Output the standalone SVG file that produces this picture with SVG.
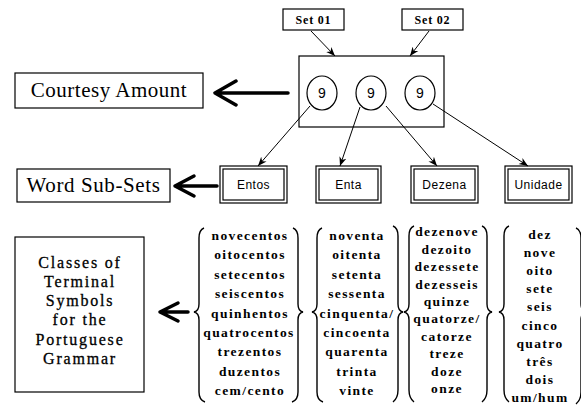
<svg xmlns="http://www.w3.org/2000/svg" width="581" height="406" viewBox="0 0 581 406">
<defs>
<style>
.box{fill:#fff;stroke:#000;stroke-width:1.2}
.lbl{font-family:"Liberation Serif","Times New Roman",serif;font-size:21px;fill:#000;text-anchor:middle}
.cls{font-family:"Liberation Serif","Times New Roman",serif;font-size:16px;fill:#000;text-anchor:middle;letter-spacing:1.8px;stroke:#000;stroke-width:0.3}
.set{font-family:"Liberation Serif","Times New Roman",serif;font-size:12px;font-weight:bold;fill:#000;text-anchor:middle;letter-spacing:0.8px}
.sub{font-family:"Liberation Sans",Arial,sans-serif;font-size:12px;fill:#000;text-anchor:middle;letter-spacing:0.5px}
.dig{font-family:"Liberation Sans",Arial,sans-serif;font-size:14px;fill:#000;text-anchor:middle}
.w{font-family:"Liberation Serif","Times New Roman",serif;font-size:13.5px;font-weight:bold;fill:#000;text-anchor:middle;letter-spacing:1.4px}
.con{fill:none;stroke:#000;stroke-width:1;marker-end:url(#ah)}
.big{fill:none;stroke:#000;stroke-width:3.5;stroke-linecap:round;stroke-linejoin:round}
.brace{fill:none;stroke:#000;stroke-width:1.4}
</style>
<marker id="ah" viewBox="0 0 10 10" refX="10" refY="5" markerWidth="9" markerHeight="9" markerUnits="userSpaceOnUse" orient="auto">
<path d="M0,1 L10,5 L0,9 L3,5 Z" fill="#000"/>
</marker>
</defs>

<g id="set01"><rect class="box" x="283" y="9" width="61" height="21"/><text class="set" x="313.5" y="24">Set 01</text></g>
<g id="set02"><rect class="box" x="402" y="9" width="61" height="21"/><text class="set" x="432.5" y="24">Set 02</text></g>

<g id="courtesy-box">
<rect class="box" x="299" y="56" width="145" height="71"/>
<ellipse class="box" cx="322" cy="93" rx="15" ry="17"/><text class="dig" x="322" y="98">9</text>
<ellipse class="box" cx="371" cy="93" rx="15" ry="17"/><text class="dig" x="371" y="98">9</text>
<ellipse class="box" cx="420" cy="93" rx="15" ry="17"/><text class="dig" x="420" y="98">9</text>
</g>

<g id="courtesy-label"><rect class="box" x="15" y="73" width="188" height="35"/><text class="lbl" x="109" y="97" style="letter-spacing:0.5px">Courtesy Amount</text></g>
<g id="subsets-label"><rect class="box" x="17" y="169" width="153" height="33"/><text class="lbl" x="93.5" y="192" style="letter-spacing:0.6px">Word Sub-Sets</text></g>
<g id="classes-label"><rect class="box" x="15" y="237" width="129" height="155"/>
<text class="cls" x="80" y="268">Classes of</text>
<text class="cls" x="80" y="287">Terminal</text>
<text class="cls" x="80" y="306">Symbols</text>
<text class="cls" x="80" y="325">for the</text>
<text class="cls" x="80" y="345">Portuguese</text>
<text class="cls" x="80" y="364">Grammar</text>
</g>

<g id="entos"><rect class="box" x="220" y="166" width="67" height="37"/><rect class="box" x="223" y="169" width="61" height="31"/><text class="sub" x="253.5" y="189">Entos</text></g>
<g id="enta"><rect class="box" x="316" y="166" width="65" height="37"/><rect class="box" x="319" y="169" width="59" height="31"/><text class="sub" x="348.5" y="189">Enta</text></g>
<g id="dezena"><rect class="box" x="411" y="166" width="67" height="37"/><rect class="box" x="414" y="169" width="61" height="31"/><text class="sub" x="444.5" y="189">Dezena</text></g>
<g id="unidade"><rect class="box" x="505" y="166" width="67" height="37"/><rect class="box" x="508" y="169" width="61" height="31"/><text class="sub" x="538.5" y="189">Unidade</text></g>

<g id="connectors">
<line class="con" x1="311" y1="31" x2="335" y2="56"/>
<line class="con" x1="429" y1="31" x2="410" y2="56"/>
<line class="con" x1="310" y1="106" x2="258" y2="166"/>
<line class="con" x1="360" y1="107" x2="340" y2="166"/>
<line class="con" x1="386" y1="106" x2="437" y2="166"/>
<line class="con" x1="433" y1="104" x2="528" y2="166"/>
<path class="big" d="M215,93 H288 M236,81 L215,93 L236,105"/>
<path class="big" d="M175,186 H217 M194,176 L175,186 L194,196"/>
<path class="big" d="M160,312 H188 M178,303 L160,312 L178,321"/>
</g>

<g id="braces">
<path class="brace" d="M204,228 Q199,230 199,238 V304 Q199,311 194,312 Q199,313 199,320 V392 Q199,400 205,402"/>
<path class="brace" d="M293,228 Q298,230 298,238 V304 Q298,311 303,312 Q298,313 298,320 V392 Q298,400 292,402"/>
<path class="brace" d="M322,228 Q317,230 317,238 V304 Q317,311 312,312 Q317,313 317,320 V392 Q317,400 323,402"/>
<path class="brace" d="M393,226 Q398,228 398,236 V304 Q398,311 403,312 Q398,313 398,320 V390 Q398,398 393,402"/>
<path class="brace" d="M414,226 Q409,228 409,236 V304 Q409,311 404,312 Q409,313 409,320 V390 Q409,398 414,402"/>
<path class="brace" d="M482,226 Q487,228 487,236 V304 Q487,311 492,312 Q487,313 487,320 V390 Q487,398 482,402"/>
<path class="brace" d="M509,226 Q504,228 504,236 V304 Q504,311 499,312 Q504,313 504,320 V390 Q504,398 509,402"/>
<path class="brace" d="M576,228 Q581,230 581,238 V304 Q581,311 586,312 Q581,313 581,320 V392 Q581,400 576,404"/>
</g>

<g id="words-entos">
<text class="w" x="250" y="240">novecentos</text>
<text class="w" x="250" y="259">oitocentos</text>
<text class="w" x="250" y="279">setecentos</text>
<text class="w" x="250" y="298">seiscentos</text>
<text class="w" x="250" y="318">quinhentos</text>
<text class="w" x="249" y="337">quatrocentos</text>
<text class="w" x="250" y="356">trezentos</text>
<text class="w" x="250" y="376">duzentos</text>
<text class="w" x="250" y="395">cem/cento</text>
</g>
<g id="words-enta">
<text class="w" x="357" y="240">noventa</text>
<text class="w" x="357" y="259">oitenta</text>
<text class="w" x="357" y="279">setenta</text>
<text class="w" x="357" y="298">sessenta</text>
<text class="w" x="357" y="318">cinquenta/</text>
<text class="w" x="357" y="337">cincoenta</text>
<text class="w" x="357" y="356">quarenta</text>
<text class="w" x="357" y="376">trinta</text>
<text class="w" x="357" y="395">vinte</text>
</g>
<g id="words-dezena">
<text class="w" x="447" y="236">dezenove</text>
<text class="w" x="447" y="254">dezoito</text>
<text class="w" x="447" y="271">dezessete</text>
<text class="w" x="447" y="289">dezesseis</text>
<text class="w" x="447" y="306">quinze</text>
<text class="w" x="447" y="323">quatorze/</text>
<text class="w" x="447" y="341">catorze</text>
<text class="w" x="447" y="358">treze</text>
<text class="w" x="447" y="376">doze</text>
<text class="w" x="447" y="393">onze</text>
</g>
<g id="words-unidade">
<text class="w" x="540" y="239">dez</text>
<text class="w" x="540" y="257">nove</text>
<text class="w" x="540" y="275">oito</text>
<text class="w" x="540" y="293">sete</text>
<text class="w" x="540" y="311">seis</text>
<text class="w" x="540" y="330">cinco</text>
<text class="w" x="540" y="348">quatro</text>
<text class="w" x="540" y="366">três</text>
<text class="w" x="540" y="384">dois</text>
<text class="w" x="540" y="402">um/hum</text>
</g>
</svg>
